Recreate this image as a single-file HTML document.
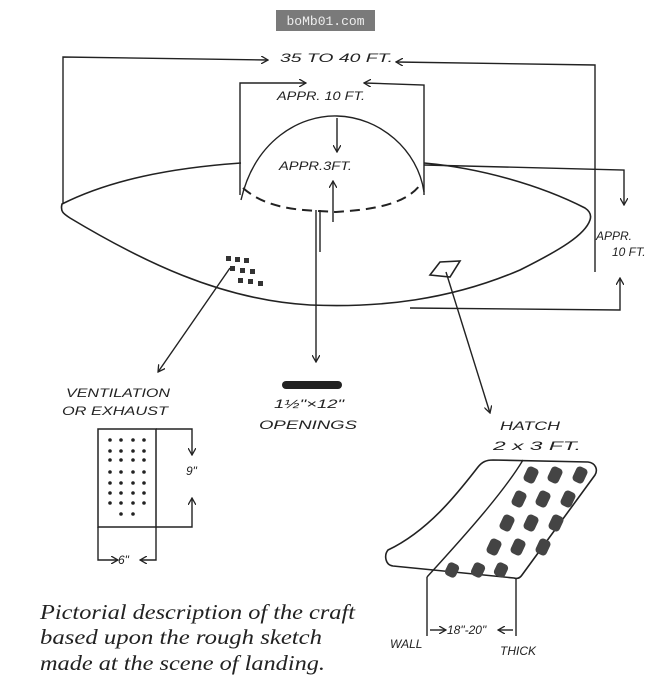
<!DOCTYPE html>
<html><head><meta charset="utf-8"><style>
html,body{margin:0;padding:0;background:#fff;}
svg{display:block;}
.h{font-family:"Liberation Sans",sans-serif;font-style:italic;font-size:12px;fill:#222;}
</style></head><body>
<svg width="650" height="686" viewBox="0 0 650 686" xmlns="http://www.w3.org/2000/svg">
<defs><marker id="a" markerWidth="8" markerHeight="8" refX="7" refY="4" orient="auto" markerUnits="userSpaceOnUse"><path d="M0,0 L7,4 L0,8" fill="none" stroke="#222" stroke-width="1.3"/></marker></defs>
<rect x="276" y="10" width="99" height="21" fill="#7a7a7a"/>
<text x="325.5" y="25" text-anchor="middle" font-family="Liberation Mono,monospace" font-size="13" fill="#eee">boMb01.com</text>
<g stroke="#222" stroke-width="1.4" fill="none">
<path d="M63,203 L63,57 L268,60" marker-end="url(#a)"/>
<path d="M595,272 L595,65 L396,62" marker-end="url(#a)"/>
<path d="M240,195 L240,83 L306,83" marker-end="url(#a)"/>
<path d="M424,195 L424,85 L364,83" marker-end="url(#a)"/>
<path d="M241,200 C255,140 300,115 337,116 C380,117 418,150 424,192"/>
<path d="M243,188 C270,212 310,210 335,212 C370,210 405,205 420,185" stroke-dasharray="10,6" stroke-width="2"/>
<path d="M337,118 L337,152" marker-end="url(#a)"/>
<path d="M333,222 L333,181" marker-end="url(#a)"/>
<path d="M241,163 C170,168 110,180 62,204 C60,212 64,214 70,218 C140,260 220,300 310,305 C380,308 450,300 520,270 C560,250 585,235 590,220 C592,214 588,210 585,208 C540,185 480,168 424,163" stroke-width="1.6"/>
<path d="M424,165 L624,170 L624,205" marker-end="url(#a)"/>
<path d="M410,308 L620,310 L620,278" marker-end="url(#a)"/>
<g fill="#333" stroke="none">
<rect x="226" y="256" width="5" height="5"/><rect x="235" y="257" width="5" height="5"/><rect x="244" y="258" width="5" height="5"/>
<rect x="230" y="266" width="5" height="5"/><rect x="240" y="268" width="5" height="5"/><rect x="250" y="269" width="5" height="5"/>
<rect x="238" y="278" width="5" height="5"/><rect x="248" y="279" width="5" height="5"/><rect x="258" y="281" width="5" height="5"/>
</g>
<path d="M430,275 L440,262 L460,261 L450,277 Z" stroke-width="1.6"/>
<path d="M230,268 L158,372" marker-end="url(#a)"/>
<path d="M320,210 L320,252 M316,210 L316,362" marker-end="url(#a)"/>
<path d="M446,272 L490,413" marker-end="url(#a)"/>
<rect x="98" y="429" width="58" height="98" stroke-width="1.5"/>
<path d="M156,429 L192,429 L192,455" marker-end="url(#a)"/>
<path d="M156,527 L192,527 L192,498" marker-end="url(#a)"/>
<path d="M98,527 L98,560 L118,560" marker-end="url(#a)"/>
<path d="M156,527 L156,560 L140,560" marker-end="url(#a)"/>
<path d="M493,460 L588,462 C596,463 598,470 595,475 L522,575 C520,578 517,579 514,578 L393,566 C385,565 384,555 388,550 C430,530 460,490 478,467 C482,462 486,460 493,460 Z" stroke-width="1.6"/>
<path d="M523,460 C505,490 470,530 427,577"/>
<path d="M427,577 L427,636 M516,578 L516,636"/>
<path d="M430,630 L446,630" marker-end="url(#a)"/>
<path d="M513,630 L498,630" marker-end="url(#a)"/>
</g>
<g fill="#222">
<rect x="282" y="381" width="60" height="8" rx="4"/>
<circle cx="110" cy="440" r="1.8"/><circle cx="121" cy="440" r="1.8"/><circle cx="133" cy="440" r="1.8"/><circle cx="144" cy="440" r="1.8"/>
<circle cx="110" cy="451" r="1.8"/><circle cx="121" cy="451" r="1.8"/><circle cx="133" cy="451" r="1.8"/><circle cx="144" cy="451" r="1.8"/>
<circle cx="110" cy="460" r="1.8"/><circle cx="121" cy="460" r="1.8"/><circle cx="133" cy="460" r="1.8"/><circle cx="144" cy="460" r="1.8"/>
<circle cx="110" cy="472" r="1.8"/><circle cx="121" cy="472" r="1.8"/><circle cx="133" cy="472" r="1.8"/><circle cx="144" cy="472" r="1.8"/>
<circle cx="110" cy="483" r="1.8"/><circle cx="121" cy="483" r="1.8"/><circle cx="133" cy="483" r="1.8"/><circle cx="144" cy="483" r="1.8"/>
<circle cx="110" cy="493" r="1.8"/><circle cx="121" cy="493" r="1.8"/><circle cx="133" cy="493" r="1.8"/><circle cx="144" cy="493" r="1.8"/>
<circle cx="110" cy="503" r="1.8"/><circle cx="121" cy="503" r="1.8"/><circle cx="133" cy="503" r="1.8"/><circle cx="144" cy="503" r="1.8"/>
<circle cx="121" cy="514" r="1.8"/><circle cx="133" cy="514" r="1.8"/>
</g>
<g fill="#444">
<rect x="525" y="467" width="12" height="16" rx="4" transform="rotate(25 531 475)"/>
<rect x="549" y="467" width="12" height="16" rx="4" transform="rotate(25 555 475)"/>
<rect x="574" y="467" width="12" height="16" rx="4" transform="rotate(25 580 475)"/>
<rect x="513" y="491" width="12" height="16" rx="4" transform="rotate(25 519 499)"/>
<rect x="537" y="491" width="12" height="16" rx="4" transform="rotate(25 543 499)"/>
<rect x="562" y="491" width="12" height="16" rx="4" transform="rotate(25 568 499)"/>
<rect x="501" y="515" width="12" height="16" rx="4" transform="rotate(25 507 523)"/>
<rect x="525" y="515" width="12" height="16" rx="4" transform="rotate(25 531 523)"/>
<rect x="550" y="515" width="12" height="16" rx="4" transform="rotate(25 556 523)"/>
<rect x="488" y="539" width="12" height="16" rx="4" transform="rotate(25 494 547)"/>
<rect x="512" y="539" width="12" height="16" rx="4" transform="rotate(25 518 547)"/>
<rect x="537" y="539" width="12" height="16" rx="4" transform="rotate(25 543 547)"/>
<rect x="446" y="563" width="12" height="14" rx="4" transform="rotate(25 452 570)"/>
<rect x="472" y="563" width="12" height="14" rx="4" transform="rotate(25 478 570)"/>
<rect x="495" y="563" width="12" height="14" rx="4" transform="rotate(25 501 570)"/>
</g>
<text class="h" x="280" y="62" font-size="14" textLength="113" lengthAdjust="spacingAndGlyphs">35 TO 40 FT.</text>
<text class="h" x="277" y="100" font-size="12" textLength="88" lengthAdjust="spacingAndGlyphs">APPR. 10 FT.</text>
<text class="h" x="279" y="170" font-size="12" textLength="73" lengthAdjust="spacingAndGlyphs">APPR.3FT.</text>
<text class="h" x="596" y="240" font-size="12">APPR.</text>
<text class="h" x="612" y="256" font-size="12">10 FT.</text>
<text class="h" x="66" y="397" textLength="104" lengthAdjust="spacingAndGlyphs">VENTILATION</text>
<text class="h" x="62" y="415" textLength="106" lengthAdjust="spacingAndGlyphs">OR EXHAUST</text>
<text class="h" x="186" y="475" font-size="11">9"</text>
<text class="h" x="118" y="564" font-size="11">6"</text>
<text class="h" x="274" y="408" font-size="14" textLength="70" lengthAdjust="spacingAndGlyphs">1½"×12"</text>
<text class="h" x="259" y="429" font-size="15" textLength="98" lengthAdjust="spacingAndGlyphs">OPENINGS</text>
<text class="h" x="500" y="430" font-size="14" textLength="60" lengthAdjust="spacingAndGlyphs">HATCH</text>
<text class="h" x="493" y="450" font-size="14" textLength="88" lengthAdjust="spacingAndGlyphs">2 x 3 FT.</text>
<text class="h" x="390" y="648" font-size="10">WALL</text>
<text class="h" x="447" y="634" font-size="10">18"-20"</text>
<text class="h" x="500" y="655" font-size="10">THICK</text>
<g font-family="Liberation Serif,serif" font-style="italic" font-size="21" fill="#222">
<text x="40" y="619" textLength="315" lengthAdjust="spacingAndGlyphs">Pictorial description of the craft</text>
<text x="40" y="644" textLength="282" lengthAdjust="spacingAndGlyphs">based upon the rough sketch</text>
<text x="40" y="670" textLength="285" lengthAdjust="spacingAndGlyphs">made at the scene of landing.</text>
</g>
</svg>
</body></html>
